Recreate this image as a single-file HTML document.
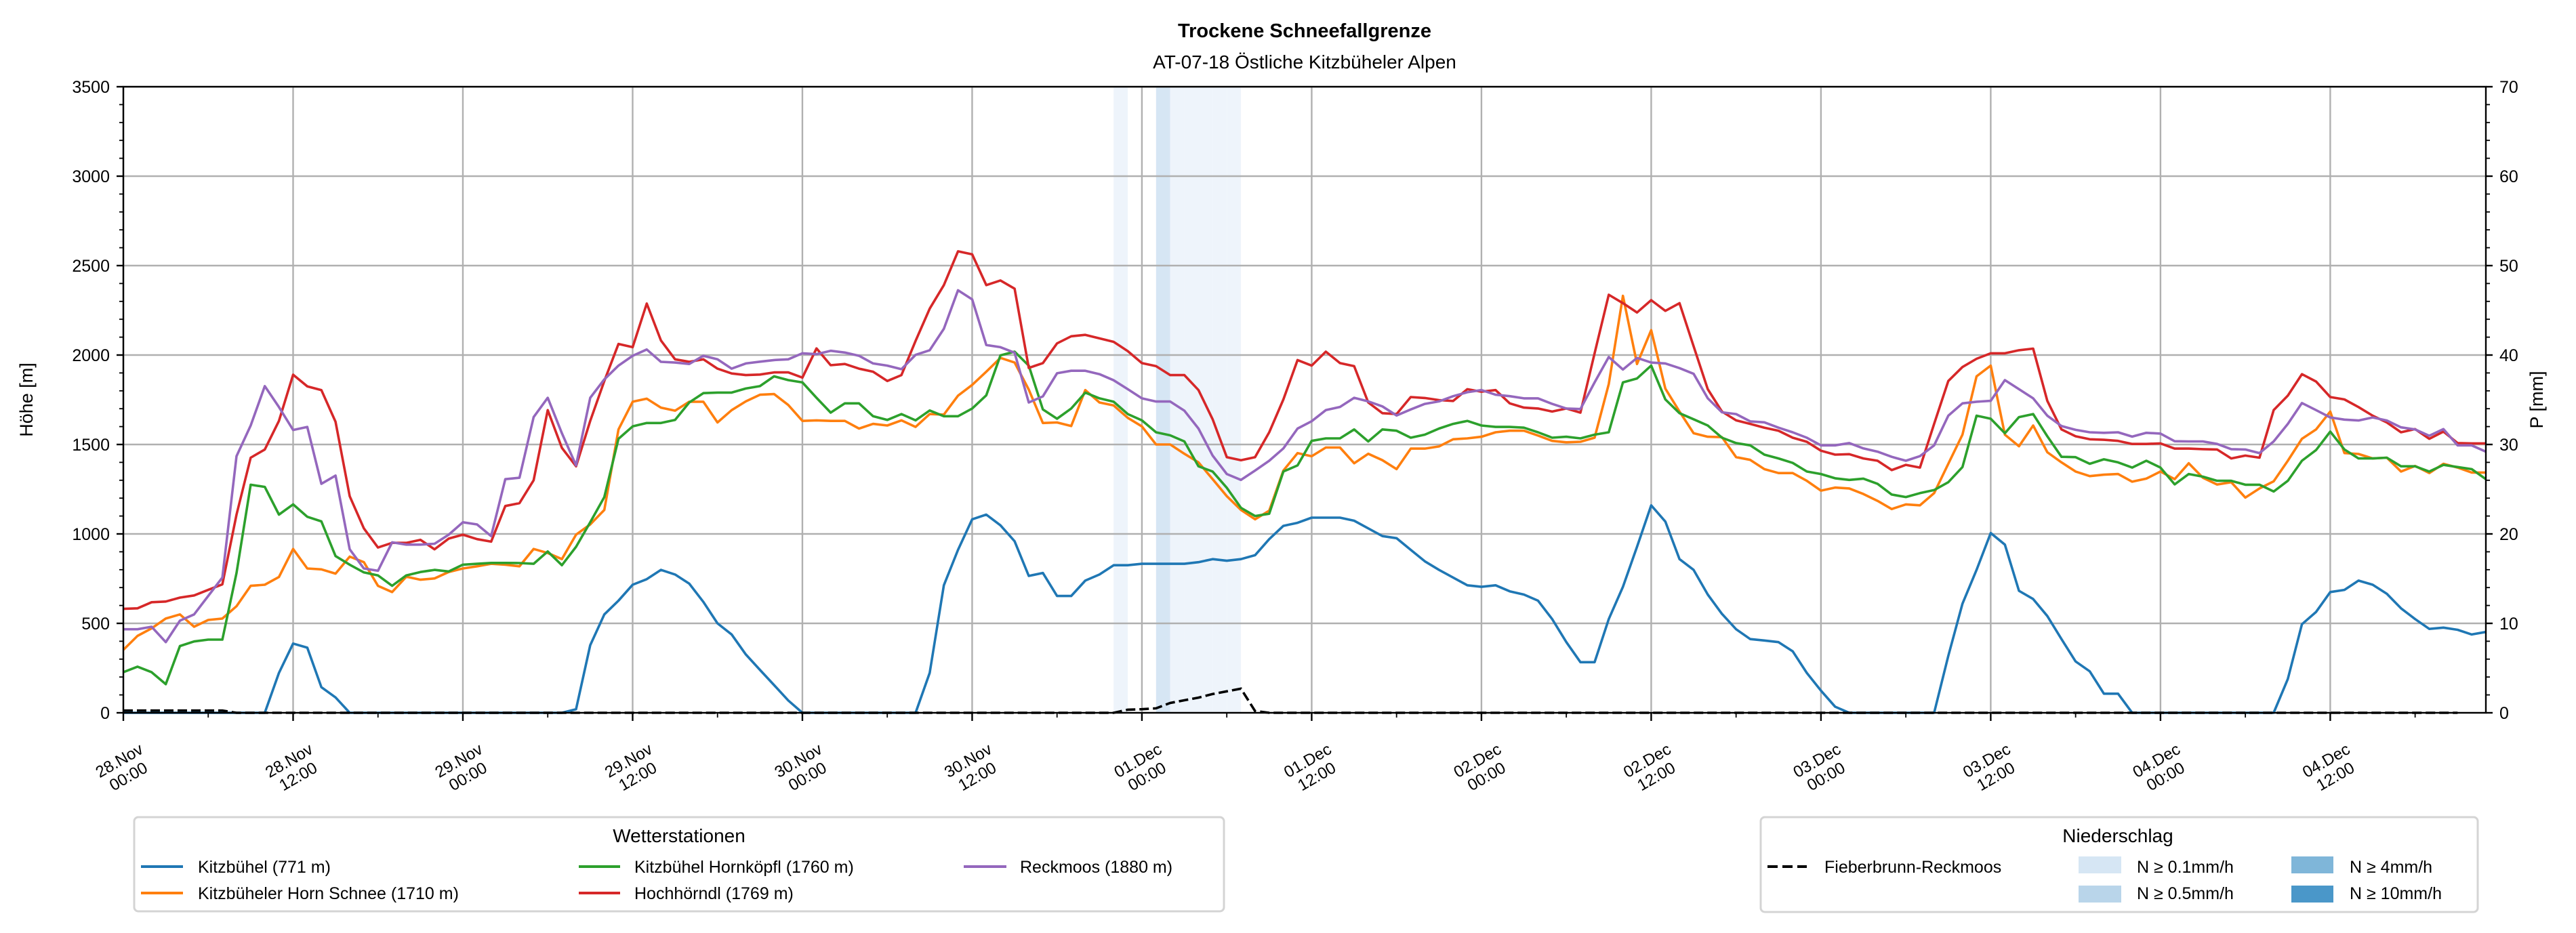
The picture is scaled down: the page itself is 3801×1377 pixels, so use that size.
<!DOCTYPE html>
<html><head><meta charset="utf-8"><style>
html,body{margin:0;padding:0;background:#fff;}
svg{display:block;font-family:"Liberation Sans",sans-serif;}
</style></head><body>
<svg id="chart" width="3801" height="1377" viewBox="0 0 3801 1377" xmlns="http://www.w3.org/2000/svg">
<rect width="3801" height="1377" fill="#fff"/>
<text x="1925" y="55" text-anchor="middle" font-size="29" font-weight="bold">Trockene Schneefallgrenze</text>
<text x="1925" y="101" text-anchor="middle" font-size="28">AT-07-18 Östliche Kitzbüheler Alpen</text>
<g id="bands"></g><g id="grid"></g><g id="series"></g><g id="axes"></g>
<text transform="translate(48,590) rotate(-90)" text-anchor="middle" font-size="27">Höhe [m]</text>
<text transform="translate(3752,590) rotate(-90)" text-anchor="middle" font-size="27">P [mm]</text>
<g>
<rect x="198" y="1206" width="1608" height="139" rx="6" fill="#fff" stroke="#d4d4d4" stroke-width="3"/>
<text x="1002" y="1243" text-anchor="middle" font-size="28">Wetterstationen</text>
<line x1="208" y1="1279" x2="270" y2="1279" stroke="#1f77b4" stroke-width="4"/><text x="292" y="1288" font-size="25">Kitzbühel (771 m)</text>
<line x1="208" y1="1318" x2="270" y2="1318" stroke="#ff7f0e" stroke-width="4"/><text x="292" y="1327" font-size="25">Kitzbüheler Horn Schnee (1710 m)</text>
<line x1="854" y1="1279" x2="915" y2="1279" stroke="#2ca02c" stroke-width="4"/><text x="936" y="1288" font-size="25">Kitzbühel Hornköpfl (1760 m)</text>
<line x1="854" y1="1318" x2="915" y2="1318" stroke="#d62728" stroke-width="4"/><text x="936" y="1327" font-size="25">Hochhörndl (1769 m)</text>
<line x1="1422" y1="1279" x2="1485" y2="1279" stroke="#9467bd" stroke-width="4"/><text x="1505" y="1288" font-size="25">Reckmoos (1880 m)</text>
</g>
<g>
<rect x="2598" y="1206" width="1058" height="140" rx="6" fill="#fff" stroke="#d4d4d4" stroke-width="3"/>
<text x="3125" y="1243" text-anchor="middle" font-size="28">Niederschlag</text>
<line x1="2608" y1="1279" x2="2666" y2="1279" stroke="#000" stroke-width="4" stroke-dasharray="15,7"/><text x="2692" y="1288" font-size="25">Fieberbrunn-Reckmoos</text>
<rect x="3067" y="1264" width="63" height="25" fill="#d6e6f4"/><text x="3153" y="1288" font-size="25">N ≥ 0.1mm/h</text>
<rect x="3067" y="1307" width="63" height="25" fill="#b9d5ea"/><text x="3153" y="1327" font-size="25">N ≥ 0.5mm/h</text>
<rect x="3381" y="1264" width="62" height="25" fill="#7fb6d9"/><text x="3467" y="1288" font-size="25">N ≥ 4mm/h</text>
<rect x="3381" y="1307" width="62" height="25" fill="#4a97c9"/><text x="3467" y="1327" font-size="25">N ≥ 10mm/h</text>
</g>
</svg>
<script>
const hours=167;
const kitzbuehel=[0,0,0,0,0,0,0,0,0,0,0,223,387,364,143,86,0,0,0,0,0,0,0,0,0,0,0,0,0,0,0,0,20,378,550,627,716,747,799,773,722,620,500,438,326,240,155,69,0,0,0,0,0,0,0,0,0,223,713,911,1082,1108,1048,959,765,782,653,653,739,773,825,825,833,833,833,833,842,859,850,859,881,971,1045,1062,1091,1091,1091,1074,1031,988,976,911,847,799,756,713,704,713,679,661,627,524,395,283,283,524,704,928,1160,1069,859,799,661,553,467,412,404,395,344,223,124,34,0,0,0,0,0,0,0,318,610,799,1005,940,682,636,541,412,287,232,107,107,0,0,0,0,0,0,0,0,0,0,0,189,495,564,675,687,739,716,665,584,524,469,476,464,438,452];
const hornSchnee=[352,430,472,527,550,481,519,527,596,710,716,759,916,807,802,778,873,842,710,675,761,744,751,787,807,819,833,828,819,916,893,859,996,1053,1134,1584,1739,1756,1706,1689,1739,1739,1623,1692,1741,1778,1782,1721,1632,1635,1632,1632,1589,1615,1606,1635,1598,1670,1667,1773,1833,1907,1984,1958,1807,1620,1623,1603,1804,1735,1718,1649,1601,1500,1500,1448,1400,1306,1211,1134,1082,1130,1354,1452,1434,1483,1483,1395,1448,1412,1362,1477,1477,1489,1529,1534,1543,1568,1577,1577,1550,1520,1512,1515,1538,1838,2331,1950,2139,1812,1684,1563,1543,1541,1429,1414,1362,1340,1340,1297,1242,1259,1254,1223,1185,1139,1165,1160,1228,1392,1555,1881,1941,1555,1490,1606,1457,1400,1349,1323,1331,1335,1292,1309,1349,1306,1395,1314,1276,1289,1203,1254,1294,1409,1532,1584,1684,1452,1447,1422,1426,1349,1380,1340,1392,1371,1343,1343];
const hornkoepfl=[227,258,227,160,373,399,409,409,782,1275,1263,1108,1165,1096,1070,876,828,785,768,710,768,787,799,790,828,833,838,838,837,833,902,825,928,1065,1206,1532,1601,1620,1620,1637,1735,1787,1790,1790,1813,1826,1881,1860,1847,1761,1678,1730,1730,1658,1637,1670,1635,1690,1658,1658,1701,1775,1998,2019,1941,1696,1644,1701,1790,1758,1739,1670,1635,1568,1551,1517,1378,1349,1258,1146,1100,1113,1349,1383,1520,1534,1534,1584,1517,1584,1577,1538,1555,1589,1615,1632,1606,1598,1598,1594,1568,1538,1543,1534,1555,1568,1847,1869,1941,1752,1675,1641,1606,1538,1508,1495,1443,1422,1397,1349,1335,1311,1302,1309,1280,1220,1206,1228,1245,1289,1374,1661,1644,1563,1653,1670,1546,1431,1429,1392,1417,1400,1371,1409,1371,1277,1335,1320,1297,1297,1275,1275,1237,1297,1409,1469,1572,1472,1422,1422,1426,1378,1378,1349,1386,1374,1362,1306];
const hochhoerndl=[581,584,618,622,644,656,687,718,1108,1426,1472,1632,1890,1825,1804,1627,1211,1031,924,950,950,967,914,974,996,971,957,1156,1172,1300,1692,1481,1378,1632,1855,2062,2044,2288,2082,1976,1962,1976,1924,1897,1888,1891,1903,1903,1874,2037,1943,1950,1924,1907,1855,1888,2079,2259,2391,2580,2563,2391,2417,2371,1928,1955,2065,2105,2113,2093,2074,2022,1955,1938,1888,1888,1804,1641,1429,1412,1429,1568,1752,1972,1941,2019,1955,1938,1735,1675,1670,1765,1760,1748,1743,1809,1795,1804,1730,1706,1701,1684,1701,1678,2010,2337,2290,2238,2307,2247,2290,2049,1809,1684,1635,1615,1594,1577,1538,1515,1465,1443,1446,1422,1409,1357,1386,1371,1615,1855,1933,1979,2010,2010,2027,2036,1744,1584,1546,1529,1526,1520,1503,1503,1506,1477,1477,1474,1472,1422,1438,1426,1692,1773,1893,1852,1765,1752,1709,1661,1623,1568,1586,1532,1572,1508,1506,1506];
const reckmoos=[467,467,481,395,515,550,653,756,1435,1606,1826,1709,1581,1598,1280,1326,914,807,794,953,940,940,945,996,1065,1053,988,1306,1314,1653,1761,1563,1383,1761,1864,1941,1996,2031,1962,1958,1950,1996,1976,1924,1953,1963,1972,1976,2010,2005,2024,2014,1996,1953,1941,1921,2001,2027,2147,2362,2311,2056,2044,2013,1735,1769,1898,1912,1912,1893,1859,1809,1758,1740,1740,1689,1589,1438,1335,1302,1354,1409,1478,1589,1630,1692,1710,1761,1741,1713,1662,1696,1727,1741,1770,1792,1804,1778,1770,1758,1758,1727,1701,1698,1847,1989,1919,1984,1958,1953,1927,1895,1758,1680,1670,1629,1624,1594,1568,1538,1495,1495,1508,1478,1460,1431,1409,1435,1495,1661,1730,1739,1744,1860,1809,1758,1661,1603,1582,1568,1565,1568,1544,1565,1561,1518,1517,1517,1503,1474,1472,1452,1517,1615,1732,1692,1651,1639,1634,1651,1634,1596,1584,1549,1586,1495,1495,1460];
const precip=[0.25,0.25,0.25,0.25,0.25,0.25,0.25,0.25,0,0,0,0,0,0,0,0,0,0,0,0,0,0,0,0,0,0,0,0,0,0,0,0,0,0,0,0,0,0,0,0,0,0,0,0,0,0,0,0,0,0,0,0,0,0,0,0,0,0,0,0,0,0,0,0,0,0,0,0,0,0,0,0.35,0.4,0.5,1.1,1.4,1.7,2.1,2.4,2.7,0.2,0,0,0,0,0,0,0,0,0,0,0,0,0,0,0,0,0,0,0,0,0,0,0,0,0,0,0,0,0,0,0,0,0,0,0,0,0,0,0,0,0,0,0,0,0,0,0,0,0,0,0,0,0,0,0,0,0,0,0,0,0,0,0,0,0,0,0,0,0,0,0,0,0,0,0,0,0,0,0,0,0,0,0,0,0];
const rainHours=[70,73,74,75,76,77,78];
const rainClasses=[1,2,1,1,1,1,1];
const yTicks=[0,500,1000,1500,2000,2500,3000,3500];
const y2Ticks=[0,10,20,30,40,50,60,70];
const xTickDays=["28.Nov","28.Nov","29.Nov","29.Nov","30.Nov","30.Nov","01.Dec","01.Dec","02.Dec","02.Dec","03.Dec","03.Dec","04.Dec","04.Dec"];
const xTickTimes=["00:00","12:00","00:00","12:00","00:00","12:00","00:00","12:00","00:00","12:00","00:00","12:00","00:00","12:00"];

const NS="http://www.w3.org/2000/svg";
const L=182,R=3668,T=128,B=1052;
const x=h=>L+h*(R-L)/hours;
const y=v=>B-v*(B-T)/3500;
const y2=v=>B-v*(B-T)/70;
function mk(tag,attrs,parent){const e=document.createElementNS(NS,tag);for(const k in attrs)e.setAttribute(k,attrs[k]);parent.appendChild(e);return e;}
const bands=document.getElementById('bands'),grid=document.getElementById('grid'),ser=document.getElementById('series'),axes=document.getElementById('axes');
const bandCol=['none','#eef4fb','#d6e6f4','#7fb6d9','#4a97c9'];
rainHours.forEach((h,i)=>{const r=mk('rect',{x:x(h),y:T,width:x(h+1)-x(h),height:B-T,fill:bandCol[rainClasses[i]]},bands);

});
yTicks.forEach(v=>{const g=mk('line',{x1:L,x2:R,y1:y(v),y2:y(v),stroke:'#b0b0b0','stroke-width':2.4},grid);


const t=mk('text',{x:L-20,y:y(v)+9,'text-anchor':'end','font-size':25},axes);t.textContent=v;


mk('line',{x1:L-10,x2:L,y1:y(v),y2:y(v),stroke:'#000','stroke-width':2.4},axes);});
y2Ticks.forEach(v=>{const t=mk('text',{x:R+20,y:y2(v)+9,'font-size':25},axes);t.textContent=v;


mk('line',{x1:R,x2:R+10,y1:y2(v),y2:y2(v),stroke:'#000','stroke-width':2.4},axes);});
for(let v=100;v<3500;v+=100){if(v%500)mk('line',{x1:L-6,x2:L,y1:y(v),y2:y(v),stroke:'#000','stroke-width':1.8},axes);}
for(let v=2;v<70;v+=2){if(v%10)mk('line',{x1:R,x2:R+6,y1:y2(v),y2:y2(v),stroke:'#000','stroke-width':1.8},axes);}
xTickDays.forEach((d,i)=>{const h=i*12;const gx=x(h);
const gl=mk('line',{x1:gx,x2:gx,y1:T,y2:B,stroke:'#b0b0b0','stroke-width':2.4},grid);


mk('line',{x1:gx,x2:gx,y1:B,y2:B+12,stroke:'#000','stroke-width':2.4},axes);
mk('line',{x1:x(h+6),x2:x(h+6),y1:B,y2:B+7,stroke:'#000','stroke-width':1.8},axes);
const g=mk('g',{transform:`translate(${gx},1133) rotate(-30)`},axes);


const a=mk('text',{x:0,y:-4,'text-anchor':'middle','font-size':24},g);a.textContent=d;
const b=mk('text',{x:0,y:23,'text-anchor':'middle','font-size':24},g);b.textContent=xTickTimes[i];});
mk('rect',{x:L,y:T,width:R-L,height:B-T,fill:'none',stroke:'#000','stroke-width':2.4},axes);
const series=[['kitzbuehel',kitzbuehel,'#1f77b4'],['horn-schnee',hornSchnee,'#ff7f0e'],['hornkoepfl',hornkoepfl,'#2ca02c'],['hochhoerndl',hochhoerndl,'#d62728'],['reckmoos',reckmoos,'#9467bd']];
series.forEach(([n,d,c])=>{const p=mk('polyline',{points:d.map((v,h)=>x(h).toFixed(1)+','+y(v).toFixed(1)).join(' '),fill:'none',stroke:c,'stroke-width':3.6,'stroke-linejoin':'round'},ser);

});
const pl=mk('polyline',{points:precip.map((v,h)=>x(h).toFixed(1)+','+y2(v).toFixed(1)).join(' '),fill:'none',stroke:'#000','stroke-width':3.6,'stroke-dasharray':'14,6'},ser);


</script>
</body></html>
